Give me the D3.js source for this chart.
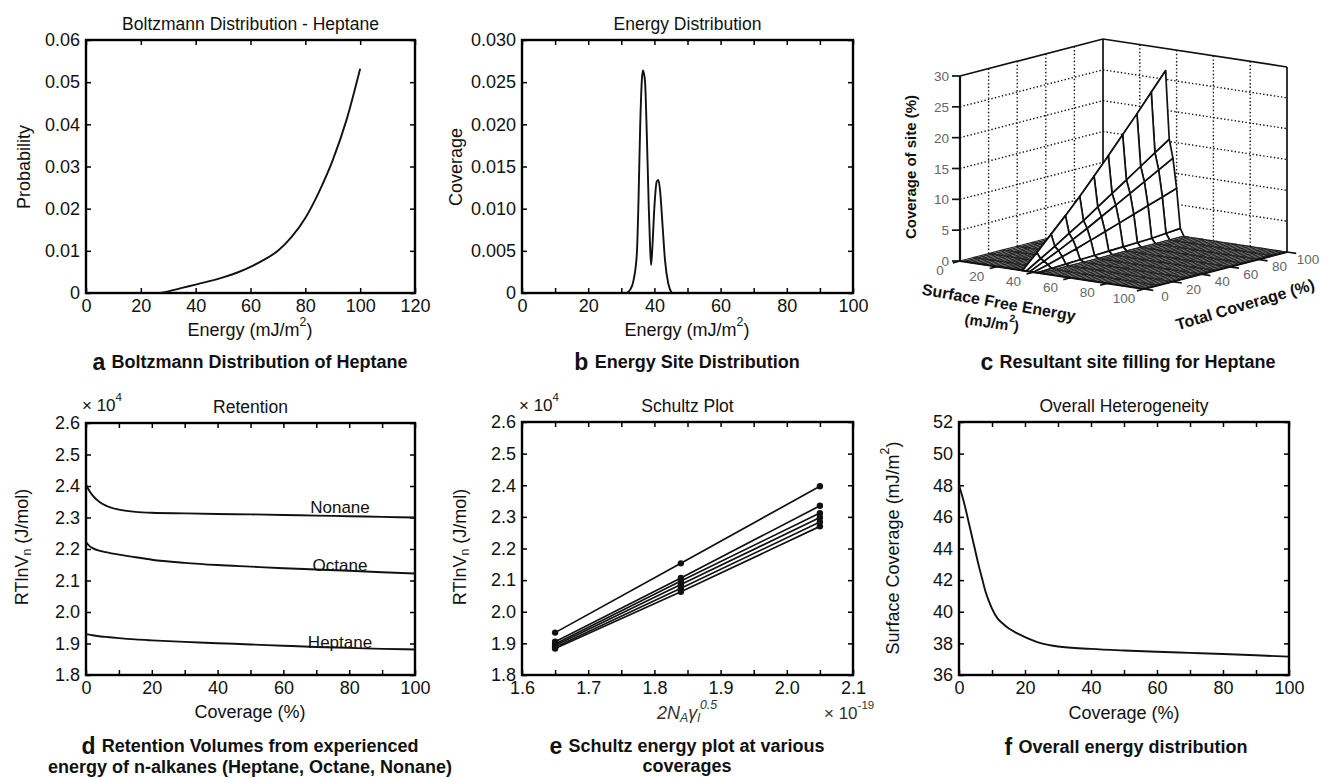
<!DOCTYPE html>
<html>
<head>
<meta charset="utf-8">
<script src="https://cdn.jsdelivr.net/npm/d3@7"></script>
<style>
body { margin: 0; background: #fff; }
svg { font-family: "Liberation Sans", Arial, Helvetica, sans-serif; }
.axis path { stroke: none; }
.axis line { stroke: #000; stroke-width: 1.5; }
.axis text { font-size: 18px; fill: #111; }
</style>
</head>
<body>
<script>
// ---- a: Boltzmann distribution of heptane
var boltzEnergy = [27, 30, 35, 40, 45, 50, 55, 60, 65, 70, 75, 80, 85, 90, 95, 100];
var boltzProb = [0, 0.0004, 0.0012, 0.0020, 0.0028, 0.0037, 0.0048, 0.0062, 0.0079, 0.0100, 0.0133, 0.0178, 0.0240, 0.0315, 0.0410, 0.0532];

// ---- b: energy site distribution
var siteEnergy = [31.5, 32.7, 33.7, 34.7, 35.2, 35.7, 36.2, 36.5, 36.9, 37.2, 37.7, 38.3, 38.7, 39.0, 39.4, 40.0, 40.7, 41.2, 41.7, 42.5, 43.2, 44.2, 45.3];
var siteCoverage = [0, 0.0004, 0.0015, 0.0047, 0.0110, 0.0197, 0.0252, 0.0264, 0.0259, 0.0249, 0.0189, 0.0102, 0.0055, 0.0033, 0.0055, 0.0102, 0.0132, 0.0134, 0.0122, 0.0078, 0.0039, 0.0011, 0];

// ---- c: resultant site filling (mesh); zero everywhere except these energies
var fillEnergies = [34, 36, 38, 40, 42];
var fillCoverages = [0, 10, 20, 30, 40, 50, 60, 70, 80, 90, 100];
var siteFill = [
  [0, 2.3, 4.7, 7.1, 9.6, 12.3, 15.0, 17.8, 20.6, 23.5, 26.4],
  [0, 1.4, 2.8, 4.3, 5.8, 7.4, 9.0, 10.6, 12.2, 13.8, 15.4],
  [0, 1.1, 2.2, 3.4, 4.6, 5.9, 7.2, 8.5, 9.8, 11.1, 12.4],
  [0, 0.6, 1.3, 2.0, 2.8, 3.6, 4.4, 5.2, 6.0, 6.8, 7.6],
  [0, 0.1, 0.2, 0.3, 0.4, 0.5, 0.6, 0.7, 0.8, 1.0, 1.2]
];
var meshEnergies = d3.range(0, 101, 2);
var c3Ticks = [0, 20, 40, 60, 80, 100];
var zTicks = [0, 5, 10, 15, 20, 25, 30];

// ---- d: retention
var retCoverage = [0, 1, 2, 4, 6, 10, 15, 20, 30, 40, 50, 60, 70, 80, 90, 100];
var nonane = [2.405, 2.385, 2.370, 2.350, 2.338, 2.325, 2.318, 2.315, 2.313, 2.311, 2.310, 2.308, 2.306, 2.304, 2.302, 2.300];
var octane = [2.222, 2.210, 2.203, 2.195, 2.190, 2.182, 2.174, 2.166, 2.156, 2.149, 2.144, 2.139, 2.135, 2.131, 2.126, 2.122];
var heptane = [1.930, 1.928, 1.926, 1.923, 1.921, 1.917, 1.913, 1.910, 1.905, 1.901, 1.897, 1.893, 1.889, 1.886, 1.883, 1.881];
var retNames = ["Nonane", "Octane", "Heptane"];

// ---- e: Schultz plot
var schultzX = [1.65, 1.84, 2.05];
var schultzSeries = [
  [1.934, 2.153, 2.397],
  [1.905, 2.107, 2.335],
  [1.898, 2.097, 2.312],
  [1.893, 2.086, 2.298],
  [1.888, 2.074, 2.284],
  [1.884, 2.063, 2.270]
];

// ---- f: overall heterogeneity
var heteroCov = [0, 1, 2, 3, 4, 5, 6, 7, 8, 9, 10, 11, 12, 13, 15, 17.5, 20, 25, 30, 40, 50, 60, 70, 80, 90, 100];
var heteroEnergy = [48.0, 47.3, 46.5, 45.6, 44.7, 43.8, 42.9, 42.1, 41.3, 40.7, 40.2, 39.8, 39.5, 39.3, 38.95, 38.65, 38.4, 38.0, 37.8, 37.65, 37.55, 37.47, 37.4, 37.33, 37.25, 37.16];

var svg = d3.select("body").append("svg").attr("width", 1323).attr("height", 779);

function rich(x, y, parts, fs, opt) {
  opt = opt || {};
  var t = svg.append("text").attr("x", x).attr("y", y)
    .attr("text-anchor", opt.anchor || "middle")
    .attr("dominant-baseline", "central")
    .attr("font-size", fs).attr("fill", opt.fill || "#111");
  if (opt.rotate !== undefined) t.attr("transform", "rotate(" + opt.rotate + "," + x + "," + y + ")");
  if (opt.italic) t.attr("font-style", "italic");
  if (opt.bold) t.attr("font-weight", "bold");
  var cur = 0;
  parts.forEach(function(p) {
    if (typeof p === "string") p = { t: p };
    var want = p.s === "sup" ? -0.45 * fs : (p.s === "sub" ? 0.3 * fs : 0);
    var sp = t.append("tspan").text(p.t).attr("dy", want - cur);
    if (p.s) sp.attr("font-size", fs * 0.68);
    cur = want;
  });
  return t;
}

function panel(o) {
  var g = svg.append("g").attr("transform", "translate(" + o.left + "," + o.top + ")");
  var w = o.right - o.left, h = o.bottom - o.top;
  var x = d3.scaleLinear().domain(o.xDomain).range([0, w]);
  var y = d3.scaleLinear().domain(o.yDomain).range([h, 0]);
  g.append("g").attr("class", "axis").attr("transform", "translate(0," + h + ")")
    .call(d3.axisBottom(x).tickValues(o.xTicks).tickFormat(o.xFormat)
      .tickSizeInner(-5).tickSizeOuter(0).tickPadding(6));
  g.append("g").attr("class", "axis")
    .call(d3.axisTop(x).tickValues(o.xTicks).tickFormat("").tickSizeInner(-5).tickSizeOuter(0));
  g.append("g").attr("class", "axis")
    .call(d3.axisLeft(y).tickValues(o.yTicks).tickFormat(o.yFormat)
      .tickSizeInner(-5).tickSizeOuter(0).tickPadding(6));
  g.append("g").attr("class", "axis").attr("transform", "translate(" + w + ",0)")
    .call(d3.axisRight(y).tickValues(o.yTicks).tickFormat("").tickSizeInner(-5).tickSizeOuter(0));
  g.append("rect").attr("width", w).attr("height", h)
    .attr("fill", "none").attr("stroke", "#000").attr("stroke-width", 2.4);
  rich((o.left + o.right) / 2, o.top - 16, [o.title], 17.5);
  return { g: g, x: x, y: y };
}

function curve(p, xs, ys) {
  var line = d3.line().x(function(d, i) { return p.x(xs[i]); })
    .y(function(d) { return p.y(d); }).curve(d3.curveMonotoneX);
  p.g.append("path").attr("d", line(ys)).attr("fill", "none")
    .attr("stroke", "#111").attr("stroke-width", 1.9);
}

function caption(x, y, letter, text) {
  var t = svg.append("text").attr("x", x).attr("y", y).attr("text-anchor", "middle")
    .attr("dominant-baseline", "central").attr("font-weight", "bold").attr("fill", "#111");
  if (letter) t.append("tspan").attr("font-size", 23).text(letter + " ");
  t.append("tspan").attr("font-size", 18).text(text);
}

function intFmt(d) { return d3.format("d")(d); }

// ---------------- a
var pa = panel({ left: 86, right: 415, top: 40, bottom: 293, title: "Boltzmann Distribution - Heptane",
  xDomain: [0, 120], yDomain: [0, 0.06], xTicks: d3.range(0, 121, 20), yTicks: d3.range(0, 0.061, 0.01),
  xFormat: intFmt, yFormat: function(d) { return d === 0 ? "0" : d3.format(".2f")(d); } });
curve(pa, boltzEnergy, boltzProb);
rich(250, 330, ["Energy (mJ/m", { t: "2", s: "sup" }, ")"], 18);
rich(24, 167, ["Probability"], 18, { rotate: -90 });
caption(250, 362, "a", "Boltzmann Distribution of Heptane");

// ---------------- b
var pb = panel({ left: 522, right: 853, top: 40, bottom: 293, title: "Energy Distribution",
  xDomain: [0, 100], yDomain: [0, 0.03], xTicks: d3.range(0, 101, 10), yTicks: d3.range(0, 0.0301, 0.005),
  xFormat: function(d) { return d % 20 === 0 ? d : ""; },
  yFormat: function(d) { return d === 0 ? "0" : d3.format(".3f")(d); } });
curve(pb, siteEnergy, siteCoverage);
rich(687, 330, ["Energy (mJ/m", { t: "2", s: "sup" }, ")"], 18);
rich(456, 167, ["Coverage"], 18, { rotate: -90 });
caption(687, 362, "b", "Energy Site Distribution");

// ---------------- c (3D mesh)
var eS = d3.scaleLinear().domain([0, 100]).range([0, 1]);
var cS = d3.scaleLinear().domain([0, 100]).range([0, 1]);
var zS = d3.scaleLinear().domain([0, 30]).range([0, 1]);
function P(e, c, z) {
  var a = eS(e), b = cS(c), h = zS(z);
  return [960 + 184 * a + 143 * b, 261 + 28 * a - 37 * b - 185 * h];
}
function depth(e, c, z) { return -140 * eS(e) + 180 * cS(c) - 37 * zS(z); }
function fillZ(e, j) {
  var k = fillEnergies.indexOf(e);
  return k < 0 ? 0 : siteFill[k][j];
}
var g3 = svg.append("g");
function seg(a, b, dotted, sw) {
  g3.append("line").attr("x1", a[0]).attr("y1", a[1]).attr("x2", b[0]).attr("y2", b[1])
    .attr("stroke", "#111").attr("stroke-width", sw || 1.7)
    .attr("stroke-dasharray", dotted ? "1.4,2.2" : null);
}
// back walls grid
zTicks.slice(1, -1).forEach(function(z) {
  seg(P(0, 0, z), P(0, 100, z), true, 1.4);
  seg(P(0, 100, z), P(100, 100, z), true, 1.4);
});
c3Ticks.slice(1, -1).forEach(function(v) {
  seg(P(0, v, 0), P(0, v, 30), true, 1.4);
  seg(P(v, 100, 0), P(v, 100, 30), true, 1.4);
});
seg(P(0, 0, 30), P(0, 100, 30));
seg(P(0, 100, 30), P(100, 100, 30));
seg(P(0, 100, 0), P(0, 100, 30));
seg(P(100, 100, 0), P(100, 100, 30));

// mesh quads, painter's order
var quads = [];
for (var i = 0; i < meshEnergies.length - 1; i++) {
  for (var j = 0; j < fillCoverages.length - 1; j++) {
    var e0 = meshEnergies[i], e1 = meshEnergies[i + 1], c0 = fillCoverages[j], c1 = fillCoverages[j + 1];
    var pts = [[e0, c0, fillZ(e0, j)], [e1, c0, fillZ(e1, j)], [e1, c1, fillZ(e1, j + 1)], [e0, c1, fillZ(e0, j + 1)]];
    var dz = d3.mean(pts, function(p) { return depth(p[0], p[1], p[2]); });
    var raised = d3.max(pts, function(p) { return p[2]; }) > 0;
    quads.push({ pts: pts, depth: dz, raised: raised });
  }
}
quads.sort(function(a, b) { return b.depth - a.depth; });
g3.selectAll("polygon.q").data(quads).enter().append("polygon")
  .attr("points", function(d) { return d.pts.map(function(p) { return P(p[0], p[1], p[2]).join(","); }).join(" "); })
  .attr("fill", "#fff")
  .attr("stroke", function(d) { return d.raised ? "#111" : "#222"; })
  .attr("stroke-width", function(d) { return d.raised ? 1.7 : 1.1; })
  .attr("stroke-linejoin", "round");

// front axes
seg(P(0, 0, 0), P(100, 0, 0), false, 2);
seg(P(100, 0, 0), P(100, 100, 0), false, 2);
seg(P(0, 0, 0), P(0, 0, 30), false, 2.2);
zTicks.forEach(function(z) {
  var p = P(0, 0, z);
  seg(p, [p[0] - 8, p[1]], false, 1.7);
  rich(p[0] - 11, p[1], [String(z)], 13.5, { anchor: "end", fill: "#666" });
});
c3Ticks.forEach(function(v) {
  seg(P(v, 0, 0), P(v, -5, 0), false, 1.7);
  var p = P(v, 0, 0);
  rich(p[0] - 20, p[1] + 9, [String(v)], 13.5, { fill: "#666" });
  seg(P(100, v, 0), P(105, v, 0), false, 1.7);
  var q = P(100, v, 0);
  rich(q[0] + 21, q[1] + 7, [String(v)], 13.5, { fill: "#666" });
});
rich(910, 167, ["Coverage of site (%)"], 15, { rotate: -90, bold: true });
rich(999, 302, ["Surface Free Energy"], 16, { rotate: 10, bold: true });
rich(992, 322, ["(mJ/m", { t: "2", s: "sup" }, ")"], 15, { rotate: 8, bold: true });
rich(1245, 304, ["Total Coverage (%)"], 16, { rotate: -16.5, bold: true });
caption(1128, 362, "c", "Resultant site filling for Heptane");

// ---------------- d
var pd = panel({ left: 86, right: 415, top: 423, bottom: 675, title: "Retention",
  xDomain: [0, 100], yDomain: [1.8, 2.6], xTicks: d3.range(0, 101, 10), yTicks: d3.range(1.8, 2.601, 0.1),
  xFormat: function(d) { return d % 20 === 0 ? d : ""; }, yFormat: d3.format(".1f") });
[nonane, octane, heptane].forEach(function(s) { curve(pd, retCoverage, s); });
[2.333, 2.148, 1.905].forEach(function(v, i) {
  rich(340, pd.y(v) + 423, [retNames[i]], 17);
});
rich(82, 405, ["\u00d7", " 10", { t: "4", s: "sup" }], 17, { anchor: "start" });
rich(250, 712, ["Coverage (%)"], 18);
rich(22, 547, ["RTlnV", { t: "n", s: "sub" }, " (J/mol)"], 18, { rotate: -90 });
caption(250, 746, "d", "Retention Volumes from experienced");
caption(250, 767, null, "energy of n-alkanes (Heptane, Octane, Nonane)");

// ---------------- e
var pe = panel({ left: 522, right: 853, top: 422, bottom: 675, title: "Schultz Plot",
  xDomain: [1.6, 2.1], yDomain: [1.8, 2.6], xTicks: d3.range(1.6, 2.101, 0.05), yTicks: d3.range(1.8, 2.601, 0.1),
  xFormat: function(d) { return Math.abs(d * 10 - Math.round(d * 10)) < 1e-6 ? d3.format(".1f")(d) : ""; },
  yFormat: d3.format(".1f") });
var sLine = d3.line().x(function(d, i) { return pe.x(schultzX[i]); }).y(function(d) { return pe.y(d); });
schultzSeries.forEach(function(s) {
  pe.g.append("path").attr("d", sLine(s)).attr("fill", "none").attr("stroke", "#111").attr("stroke-width", 1.7);
  pe.g.selectAll(null).data(s).enter().append("circle")
    .attr("cx", function(d, i) { return pe.x(schultzX[i]); }).attr("cy", function(d) { return pe.y(d); })
    .attr("r", 3.2).attr("fill", "#111");
});
rich(519, 405, ["\u00d7", " 10", { t: "4", s: "sup" }], 17, { anchor: "start" });
rich(824, 713, ["\u00d7", " 10", { t: "-19", s: "sup" }], 17, { anchor: "start", fill: "#333" });
rich(687, 713, ["2N", { t: "A", s: "sub" }, "\u03b3", { t: "l", s: "sub" }, { t: "0.5", s: "sup" }], 18, { italic: true, fill: "#333" });
rich(460, 547, ["RTlnV", { t: "n", s: "sub" }, " (J/mol)"], 18, { rotate: -90 });
caption(687, 746, "e", "Schultz energy plot  at various");
caption(687, 766, null, "coverages");

// ---------------- f
var pf = panel({ left: 959, right: 1289, top: 422, bottom: 675, title: "Overall Heterogeneity",
  xDomain: [0, 100], yDomain: [36, 52], xTicks: d3.range(0, 101, 10), yTicks: d3.range(36, 52.1, 2),
  xFormat: function(d) { return d % 20 === 0 ? d : ""; }, yFormat: intFmt });
curve(pf, heteroCov, heteroEnergy);
rich(1124, 713, ["Coverage (%)"], 18);
rich(893, 548, ["Surface Coverage (mJ/m", { t: "2", s: "sup" }, ")"], 18, { rotate: -90 });
caption(1126, 747, "f", "Overall energy distribution");
</script>
</body>
</html>
